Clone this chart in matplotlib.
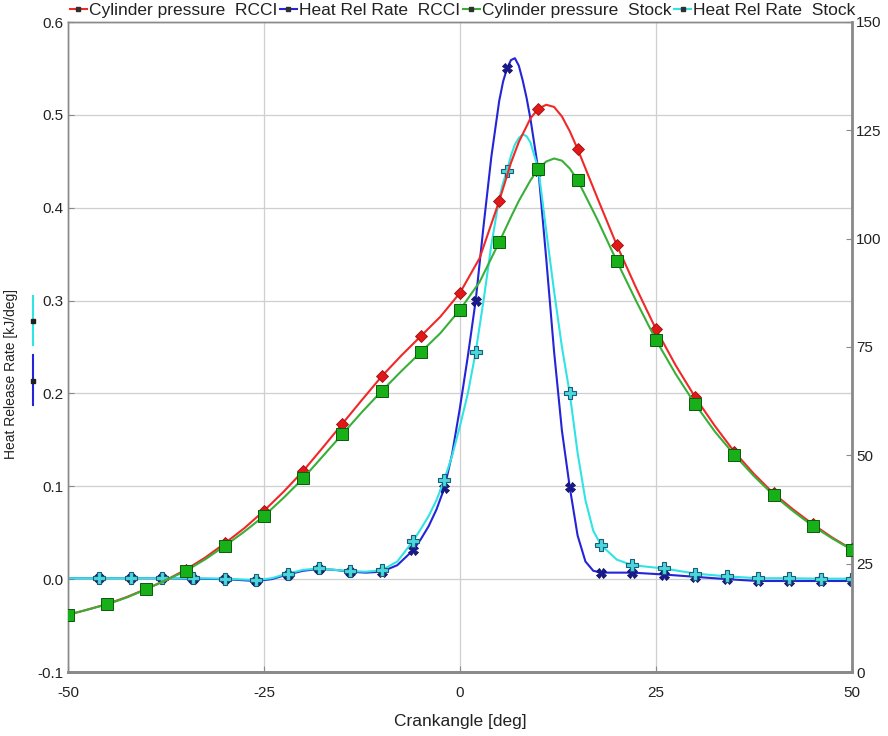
import numpy as np
import matplotlib
matplotlib.use("Agg")
import matplotlib.pyplot as plt
from matplotlib.lines import Line2D

plt.rcParams['font.family'] = ['Liberation Sans', 'DejaVu Sans']

# --- data ---
# cylinder pressure (right axis, bar) vs crank angle
ca_p = [-50, -47.5, -45, -42.5, -40, -37.5, -35, -32.5, -30, -27.5, -25, -22.5,
        -20, -17.5, -15, -12.5, -10, -7.5, -5, -2.5, 0, 2.5, 5, 6.5, 7.5, 9, 10,
        11, 12, 13, 14, 15, 17.5, 20, 22.5, 25, 27.5, 30, 32.5, 35, 37.5, 40,
        42.5, 45, 47.5, 50]
p_rcci = [13.2, 14.4, 15.7, 17.3, 19.2, 21.2, 23.6, 26.4, 29.7, 33.2, 37.2, 41.6,
          46.4, 51.8, 57.3, 62.8, 68.2, 73.0, 77.5, 82.0, 87.5, 95.5, 108.7, 117.5,
          122.3, 127.8, 130.0, 130.9, 130.4, 128.2, 124.8, 120.7, 109.5, 98.5, 88.5,
          79.1, 70.8, 63.4, 56.8, 50.8, 45.7, 41.2, 37.5, 34.1, 31.0, 28.3]
p_stock = [13.2, 14.4, 15.6, 17.2, 19.1, 21.2, 23.3, 26.0, 29.1, 32.4, 36.0, 40.2,
           44.7, 49.8, 54.9, 60.0, 64.8, 69.4, 73.8, 78.2, 83.6, 90.0, 99.2, 105.0,
           108.7, 113.5, 116.1, 117.8, 118.5, 118.0, 116.2, 113.5, 104.5, 94.8, 85.5,
           76.6, 68.8, 61.8, 55.5, 50.1, 45.2, 40.8, 37.1, 33.7, 30.8, 28.2]

# heat release rate (left axis, kJ/deg) vs crank angle
ca_h = [-50, -46, -42, -38, -34, -30, -26, -24, -22, -20, -18, -16, -14, -12, -10,
        -8, -6, -5, -4, -3, -2, -1, 0, 1, 2, 3, 4, 5, 5.5, 6, 6.5, 7, 7.5, 8, 8.5,
        9, 10, 11, 12, 13, 14, 15, 16, 17, 18, 20, 22, 26, 30, 34, 38, 42, 46, 50]
hrr_rcci = [0.001, 0.001, 0.001, 0.001, 0.0005, 0.0, -0.002, 0.0, 0.005, 0.009,
            0.011, 0.010, 0.008, 0.007, 0.008, 0.015, 0.031, 0.043, 0.057, 0.075,
            0.098, 0.135, 0.185, 0.240, 0.300, 0.380, 0.455, 0.515, 0.536, 0.550,
            0.559, 0.561, 0.553, 0.537, 0.518, 0.495, 0.440, 0.345, 0.245, 0.160,
            0.099, 0.047, 0.019, 0.009, 0.007, 0.007, 0.007, 0.005, 0.0025, 0.0,
            -0.002, -0.002, -0.002, -0.002]
hrr_stock = [0.001, 0.001, 0.001, 0.001, 0.001, 0.0005, -0.001, 0.001, 0.006, 0.010,
             0.0115, 0.010, 0.0086, 0.008, 0.0095, 0.019, 0.041, 0.054, 0.068, 0.085,
             0.107, 0.133, 0.165, 0.200, 0.2445, 0.300, 0.360, 0.410, 0.427, 0.440,
             0.456, 0.468, 0.475, 0.479, 0.477, 0.470, 0.4415, 0.375, 0.310, 0.250,
             0.200, 0.136, 0.085, 0.052, 0.0366, 0.021, 0.015, 0.0115, 0.006, 0.003,
             0.001, 0.001, 0.0005, 0.0005]

labels = ['Cylinder pressure  RCCI', 'Heat Rel Rate  RCCI',
          'Cylinder pressure  Stock', 'Heat Rel Rate  Stock']

C_RED, C_BLUE, C_GREEN, C_CYAN = '#f02828', '#2424d8', '#38b038', '#30e4e4'

# marker positions: pressure every 5 deg, heat release every 4 deg from -46
ca_p_arr = np.array(ca_p)
ca_h_arr = np.array(ca_h)
mk_p = list(np.where(ca_p_arr % 5 == 0)[0])
mk_h = list(np.where((ca_h_arr >= -46) & ((ca_h_arr + 46) % 4 == 0))[0])

fig = plt.figure(figsize=(8.88, 7.36), dpi=100)
ax = fig.add_axes([68 / 888, 1 - 672 / 736, 784 / 888, 650 / 736])
ax2 = ax.twinx()

# heat release (left)
ax.plot(ca_h, hrr_rcci, color=C_BLUE, lw=1.5, marker='X', markevery=mk_h,
        ms=7, mfc='#1a1a90', mec='#10106a', mew=0.6, zorder=3)
ax.plot(ca_h, hrr_stock, color=C_CYAN, lw=1.5, marker='P', markevery=mk_h,
        ms=8, mfc='#48d8dc', mec='#1c5a78', mew=0.8, zorder=4)

# cylinder pressure (right)
ax2.plot(ca_p, p_rcci, color=C_RED, lw=1.5, marker='D', markevery=mk_p,
         ms=6, mfc='#e01818', mec='#9a1010', mew=0.6, zorder=3)
ax2.plot(ca_p, p_stock, color=C_GREEN, lw=1.5, marker='s', markevery=mk_p,
         ms=8, mfc='#18b018', mec='#0c5a0c', mew=0.7, zorder=4)

ax.set_xlim(-50, 50)
ax.set_ylim(-0.1, 0.6)
ax2.set_ylim(0, 150)
ax.set_xticks([-50, -25, 0, 25, 50])
ax.set_xticklabels(['-50', '-25', '0', '25', '50'])
ax.set_yticks(np.arange(-0.1, 0.61, 0.1))
ax.set_yticklabels([f'{v:.1f}' for v in np.arange(-0.1, 0.61, 0.1)])
ax2.set_yticks(np.arange(0, 151, 25))

ax.grid(True, color='#cfcfcf', lw=0.9)
ax.set_axisbelow(True)

for a in (ax, ax2):
    for s in a.spines.values():
        s.set_color('#8a8a8a')
        s.set_linewidth(1.0)
ax2.spines['right'].set_linewidth(2.0)
ax2.spines['bottom'].set_linewidth(2.0)
ax.spines['bottom'].set_linewidth(2.0)

ax.tick_params(axis='y', direction='in', length=4, color='#8a8a8a',
               labelsize=11, labelcolor='#222222', pad=3)
ax.tick_params(axis='x', direction='in', length=4, color='#8a8a8a',
               labelsize=11, labelcolor='#222222', pad=10)
ax2.tick_params(axis='y', direction='in', length=4, color='#8a8a8a',
                labelsize=11, labelcolor='#222222', pad=3)

ax.set_xlabel('Crankangle [deg]', fontsize=12.5, color='#222222', labelpad=10)
ax.set_ylabel('Heat Release Rate [kJ/deg]', fontsize=10, color='#222222')
ax.yaxis.set_label_coords(-0.064, 0.458)

# little series keys beside the left axis label
fig.add_artist(Line2D([33 / 888, 33 / 888], [1 - 296 / 736, 1 - 345 / 736],
                      color=C_CYAN, lw=1.5))
fig.add_artist(Line2D([33 / 888], [1 - 321 / 736], marker='s', ms=2.2,
                      color='#202020', lw=0))
fig.add_artist(Line2D([33 / 888, 33 / 888], [1 - 355 / 736, 1 - 405 / 736],
                      color=C_BLUE, lw=1.5))
fig.add_artist(Line2D([33 / 888], [1 - 381 / 736], marker='s', ms=2.2,
                      color='#202020', lw=0))

# legend across the top
handles = [Line2D([], [], color=c, lw=1.5, marker='s', ms=2.2,
                  mfc='#303030', mec='#303030')
           for c in (C_RED, C_BLUE, C_GREEN, C_CYAN)]
fig.legend(handles, labels, loc='upper center', bbox_to_anchor=(462.5 / 888, 1.006),
           ncol=4, frameon=False, fontsize=12.5, handlelength=1.0,
           handletextpad=0.1, columnspacing=0.15, borderaxespad=0.0,
           labelcolor='#222222')

fig.savefig('out.png', dpi=100, facecolor='white')
